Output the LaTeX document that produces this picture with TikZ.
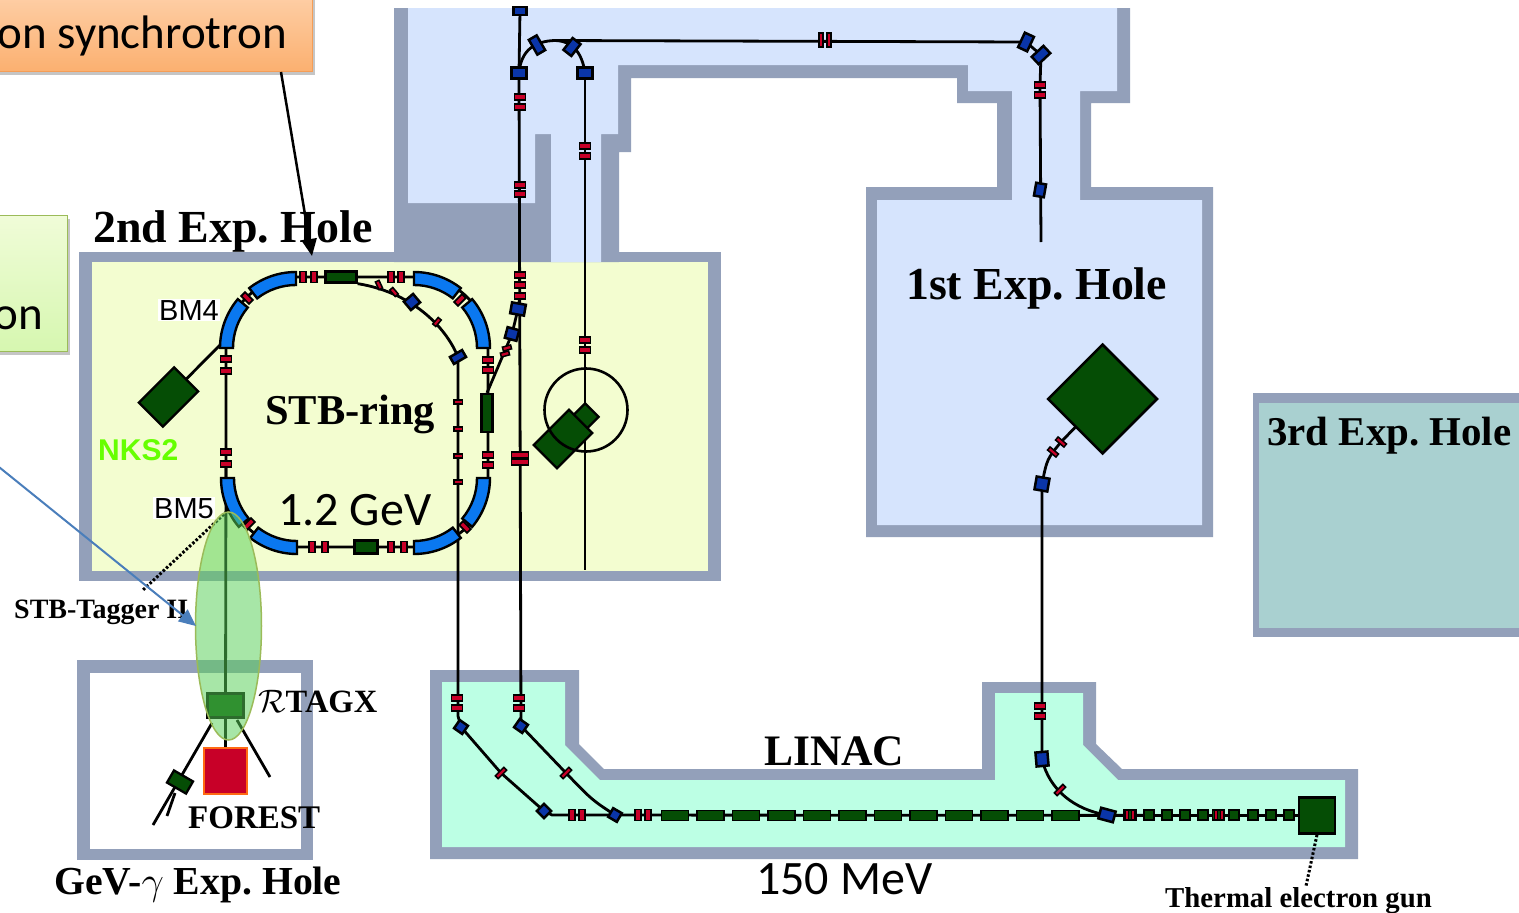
\documentclass[tikz,border=0pt]{standalone}
\usepackage{fix-cm}
\usepackage{fontspec}
\usepackage{xcolor}
\usepackage{tikz}
\usetikzlibrary{shapes.geometric, arrows.meta, backgrounds, shadows}
\setmainfont{Liberation Serif}
\newfontfamily\armfont{Liberation Sans}
\newfontfamily\calfont{Carlito}
\definecolor{wallgray}{HTML}{93A0BA}
\definecolor{halblue}{HTML}{D6E4FD}
\definecolor{holeyellow}{HTML}{F3FDD0}
\definecolor{linacmint}{HTML}{BCFFE4}
\definecolor{holeteal}{HTML}{A9D0D0}
\definecolor{magred}{HTML}{C80028}
\definecolor{cavgreen}{HTML}{054D05}
\definecolor{bendblue}{HTML}{0A35A8}
\definecolor{ringblue}{HTML}{0A78F0}
\tikzset{
    wallfill/.style={fill=wallgray},
    beam/.style={draw=black, line width=2.8pt},
    dotline/.style={draw=black, line width=3pt, dash pattern=on 2.5pt off 2pt},
    quadh/.style={rectangle, draw=black, fill=magred, line width=1.8pt, inner sep=0pt, minimum width=11pt, minimum height=5.5pt},
    quadv/.style={rectangle, draw=black, fill=magred, line width=1.8pt, inner sep=0pt, minimum width=5.5pt, minimum height=11pt},
    quadthin/.style={rectangle, draw=black, fill=magred, line width=1.5pt, inner sep=0pt, minimum width=8.5pt, minimum height=4pt},
    bendmag/.style={rectangle, draw=black, fill=bendblue, line width=2.5pt, inner sep=0pt, minimum width=#1, minimum height=11pt},
    bendmag/.default=12pt,
    ringbend/.style={draw=black, fill=ringblue, line width=2.4pt},
    cavity/.style={rectangle, draw=black, fill=cavgreen, line width=1.8pt, inner sep=0pt, minimum width=#1, minimum height=10pt},
    cavity/.default=10pt,
    blockmag/.style={rectangle, draw=black, fill=cavgreen, line width=2.3pt, inner sep=0pt},
    holelabel/.style={anchor=base west, inner sep=0pt, font=\bfseries\frenchspacing\fontsize{#1}{#1}\selectfont},
    benergy/.style={anchor=base west, inner sep=0pt, font=\calfont\fontsize{48}{48}\selectfont},
    bmlabel/.style={anchor=base west, inner sep=1pt, fill=white, font=\armfont\fontsize{29}{29}\selectfont},
    callout/.style={rectangle, line width=1.5pt, inner sep=0pt, drop shadow={shadow xshift=3pt, shadow yshift=-4pt, opacity=.45}},
    pointer/.style={line width=2.5pt, -{Triangle[length=17pt,width=15pt]}},
}

\begin{document}
\begin{tikzpicture}[x=1pt, y=-1pt]
        \useasboundingbox (0,0) rectangle (1519,913);
        \clip (0,0) rectangle (1519,913);

        \begin{scope}[on background layer]
        \fill[white] (0,0) rectangle (1519,913);

        \fill[wallfill] (79,252) rectangle (721,581);
        \fill[holeyellow] (92,262) rectangle (708,571);

        \fill[wallfill] (394,8) -- (394,262) -- (619,262) -- (619,152) -- (631,152) -- (631,78) -- (957,78) -- (957,103)
            -- (997,103) -- (997,187) -- (866,187) -- (866,537) -- (1213,537) -- (1213,187) -- (1091,187) -- (1091,103)
            -- (1130,103) -- (1130,8) -- cycle;
        \fill[halblue] (408,8) -- (408,203) -- (535,203) -- (535,134) -- (551,134) -- (551,262) -- (601,262) -- (601,134)
            -- (618,134) -- (618,65) -- (968,65) -- (968,91) -- (1012,91) -- (1012,200) -- (877,200) -- (877,525)
            -- (1202,525) -- (1202,200) -- (1080,200) -- (1080,91) -- (1117,91) -- (1117,8) -- cycle;

        \fill[wallfill] (77,660) rectangle (313,860);
        \fill[white] (90,673) rectangle (301,849);

        \fill[wallfill] (1253,393) rectangle (1530,637);
        \fill[holeteal] (1259,403) rectangle (1530,628);

        \fill[wallfill] (430,670) -- (579,670) -- (579,744) -- (604,769) -- (982,769) -- (982,682) -- (1096,682) -- (1096,744)
            -- (1122,769) -- (1358,769) -- (1358,859) -- (430,859) -- cycle;
        \fill[linacmint] (442,682) -- (565,682) -- (565,745) -- (600,780) -- (995,780) -- (995,693) -- (1083,693) -- (1083,745)
            -- (1118,780) -- (1345,780) -- (1345,847) -- (442,847) -- cycle;
        \end{scope}

        \foreach \cx/\cy/\sa/\ea in {296/348/180/140, 296/348/128/90, 414/348/90/52, 414/348/40/0, 414/478/0/-40, 414/478/-52/-90, 297/478/180/220, 297/478/232/270}
            \draw[ringbend] ({\cx+63*cos(\sa)},{\cy-63*sin(\sa)}) arc[start angle=\sa, end angle=\ea, radius=63pt]
                -- ({\cx+76*cos(\ea)},{\cy-76*sin(\ea)}) arc[start angle=\ea, end angle=\sa, radius=76pt] -- cycle;

        \node[quadh, rotate=-45] (gapnw) at (247,298) {};
        \node[quadh, rotate=45] (gapne) at (460,300) {};
        \node[quadh, rotate=45] (gapsw) at (249,524) {};
        \node[quadh, rotate=-45] (gapse) at (465,527) {};

        \node[quadh] (ringwa) at (226,359) {};
        \node[quadh] (ringwb) at (226,371) {};
        \node[quadh] (ringwc) at (226,452) {};
        \node[quadh] (ringwd) at (226,464) {};
        \node[quadh] (ringea) at (488,360) {};
        \node[quadh] (ringeb) at (488,370) {};
        \node[quadh] (ringec) at (488,455) {};
        \node[quadh] (ringed) at (488,465) {};
        \node[quadv] (ringna) at (303,277) {};
        \node[quadv] (ringnb) at (314,277) {};
        \node[quadv] (ringnc) at (391,277) {};
        \node[quadv] (ringnd) at (401,277) {};
        \node[quadv] (ringsa) at (312,547) {};
        \node[quadv] (ringsb) at (325,547) {};
        \node[quadv] (ringsc) at (391,547) {};
        \node[quadv] (ringsd) at (404,547) {};
        \node[blockmag, minimum width=31pt, minimum height=11pt] (ringcavtop) at (341,277) {};
        \node[blockmag, minimum width=23pt, minimum height=13pt] (ringcavbot) at (366,547) {};
        \node[blockmag, minimum width=11pt, minimum height=38pt] (ringcavright) at (487,413) {};

        \node[quadthin, rotate=-65] (inra) at (379,285) {};
        \node[quadthin, rotate=-50] (inrb) at (394,292) {};
        \node[bendmag=12pt, rotate=40] (inbenda) at (412,302) {};
        \node[quadthin, rotate=50] (inrc) at (437,322) {};
        \node[bendmag=14pt, minimum height=8pt, rotate=30] (inbendb) at (458,357) {};
        \node[quadthin] (inrd) at (458,402) {};
        \node[quadthin] (inre) at (458,429) {};
        \node[quadthin] (inrf) at (458,456) {};
        \node[quadthin] (inrg) at (458,482) {};

        \node[bendmag=13pt, minimum height=8pt] (ubendtop) at (520,11) {};
        \node[bendmag=15pt] (ubenda) at (519,73) {};
        \node[bendmag=9pt, minimum height=17pt, rotate=30] (ubendb) at (537,45) {};
        \node[bendmag=10pt, minimum height=15pt, rotate=-38] (ubendc) at (572,47) {};
        \node[bendmag=15pt] (ubendd) at (585,73) {};
        \node[bendmag=10pt, minimum height=16pt, rotate=-25] (ubende) at (1026,42) {};
        \node[bendmag=10pt, minimum height=16pt, rotate=-47] (ubendf) at (1041,55) {};
        \node[bendmag=10pt, minimum height=13pt, rotate=-10] (ubendg) at (1040,190) {};
        \node[quadv, minimum width=4pt, minimum height=14pt] (hora) at (821,40) {};
        \node[quadv, minimum width=4pt, minimum height=14pt] (horb) at (829,40) {};

        \node[quadh] (lina) at (520,97) {};
        \node[quadh] (linb) at (520,107) {};
        \node[quadh] (linc) at (520,185) {};
        \node[quadh] (lind) at (520,194) {};
        \node[quadh] (line) at (520,275) {};
        \node[quadh] (linf) at (520,285) {};
        \node[quadh] (ling) at (520,296) {};
        \node[quadh, minimum width=17pt] (linh) at (520,455) {};
        \node[quadh, minimum width=17pt] (lini) at (520,462) {};
        \node[quadh] (linj) at (519,698) {};
        \node[quadh] (link) at (519,708) {};
        \node[quadh] (linl) at (457,698) {};
        \node[quadh] (linm) at (457,708) {};
        \node[quadh] (midra) at (585,146) {};
        \node[quadh] (midrb) at (585,156) {};
        \node[quadh] (midrc) at (585,340) {};
        \node[quadh] (midrd) at (585,350) {};
        \node[quadh] (hola) at (1040,85) {};
        \node[quadh] (holb) at (1040,95) {};
        \node[quadh] (holc) at (1040,706) {};
        \node[quadh] (hold) at (1040,716) {};

        \node[bendmag=14pt, rotate=-10] (branchbenda) at (518,309) {};
        \node[bendmag=12pt, rotate=-15] (branchbendb) at (512,334) {};
        \node[quadthin, rotate=15] (branchra) at (507,348) {};
        \node[quadthin, rotate=15] (branchrb) at (505,354) {};

        \node[bendmag=10pt, minimum height=10pt, rotate=-35] (lbenda) at (461,727) {};
        \node[bendmag=10pt, minimum height=10pt, rotate=-35] (lbendb) at (521,726) {};
        \node[quadthin, minimum width=12pt, rotate=45] (lquada) at (501,773) {};
        \node[quadthin, minimum width=12pt, rotate=45] (lquadb) at (566,773) {};
        \node[bendmag=10pt, minimum height=10pt, rotate=45] (lbendc) at (544,811) {};
        \node[bendmag=10pt, minimum height=10pt, rotate=-30] (lbendd) at (615,815) {};
        \node[quadv] (lrowa) at (572,815) {};
        \node[quadv] (lrowb) at (582,815) {};
        \node[quadv] (lrowc) at (638,815) {};
        \node[quadv] (lrowd) at (648,815) {};
        \foreach \k in {0,...,11}
            \node[cavity=27pt] (acc\k) at ({675+35.5*\k},815.5) {};
        \node[bendmag=15pt, rotate=-15] (lbende) at (1107,815) {};
        \node[bendmag=12pt, minimum height=14pt, rotate=5] (lbendf) at (1042,759) {};
        \node[quadthin, minimum width=12pt, rotate=45] (lquadc) at (1060,790) {};

        \foreach \x/\k in {1149/a, 1167/b, 1185/c, 1203/d, 1234/e, 1253/f, 1271/g, 1289/h}
            \node[cavity] (buncher\k) at (\x,815) {};
        \node[cavity=12pt] (bunchboxa) at (1130,815) {};
        \node[quadv, minimum width=3pt, minimum height=9pt, line width=.6pt] (bunchra) at (1127,815) {};
        \node[quadv, minimum width=3pt, minimum height=9pt, line width=.6pt] (bunchrb) at (1133,815) {};
        \node[cavity=12pt] (bunchboxb) at (1218.5,815) {};
        \node[quadv, minimum width=3pt, minimum height=9pt, line width=.6pt] (bunchrc) at (1215.5,815) {};
        \node[quadv, minimum width=3pt, minimum height=9pt, line width=.6pt] (bunchrd) at (1221.5,815) {};
        \node[blockmag, line width=2.5pt, minimum width=36pt, minimum height=36pt] (gun) at (1317,815.5) {};

        \node[blockmag, minimum width=50pt, minimum height=34pt, rotate=45] (nksbox) at (168.5,397) {};
        \node[blockmag, minimum width=19pt, minimum height=28pt, rotate=-45] (targetsmall) at (582,420) {};
        \node[blockmag, minimum width=50pt, minimum height=33pt, rotate=45] (targetbig) at (563,439) {};
        \node[circle, draw=black, line width=2.6pt, inner sep=0pt, minimum size=83pt] (targetring) at (586,410) {};
        \node[diamond, draw=black, fill=cavgreen, line width=2.5pt, inner sep=0pt, minimum width=110pt, minimum height=110pt] (holemag) at (1102.5,399) {};
        \node[quadthin, minimum width=11pt, rotate=-40] (holquada) at (1061,442) {};
        \node[quadthin, minimum width=11pt, rotate=-40] (holquadb) at (1053,452) {};
        \node[bendmag=13pt, minimum height=13pt, rotate=-10] (holbend) at (1042,484) {};

        \node[blockmag, minimum width=36pt, minimum height=24pt] (tagbox) at (225.5,705.5) {};
        \node[rectangle, draw={rgb,255:red,255;green,106;blue,19}, fill=magred, line width=2.5pt, inner sep=0pt, minimum width=43pt, minimum height=46pt] (forest) at (225.5,771) {};
        \node[blockmag, minimum width=22pt, minimum height=14pt, rotate=-30] (sidebox) at (180,782) {};

        \coordinate (halturn) at (555,40.5);
        \coordinate (halend) at (1041,242);
        \coordinate (midend) at (585,570);
        \coordinate (nksjoin) at (221,344);
        \coordinate (lturna) at (458,716);
        \coordinate (lturnb) at (552,815);
        \coordinate (tagleft) at (212,723);
        \coordinate (tagfar) at (153,825);
        \coordinate (sidestub) at (175,793);
        \coordinate (sidefar) at (167,816);
        \coordinate (tagright) at (237,720);
        \coordinate (tagrightend) at (270,777);
        \coordinate (taggerdota) at (237,502);
        \coordinate (taggerdotb) at (143,590);
        \coordinate (gundot) at (1306,886);

        \begin{scope}[on background layer]
        \draw[beam, rounded corners=70pt] (226,277) rectangle (488,547);
        \draw[beam] (ringcavtop.south east) .. controls (410,292) and (445,325) .. (inbendb.center);
        \draw[beam] (inbendb.center) -- (lturna) -- (lbenda.center) -- (lquada.center) -- (lbendc.center) -- (lturnb) -- (gun.center);
        \draw[beam] (ubendtop.center) -- (ubenda.center) -- (lbendb.center) -- (lquadb.center) .. controls (592,800) .. (lbendd.center);
        \draw[beam] (ubenda.center) .. controls (521,50) and (535,41) .. (halturn) .. controls (572,41) and (582,52) .. (ubendd.center);
        \draw[beam] (halturn) -- (ubende.center) -- (ubendf.center) -- (hola.center) -- (halend);
        \draw[beam] (ubendd.center) -- (midend);
        \draw[beam] (ringcavright.north) -- (branchbendb.center) -- (branchbenda.center) -- (ling.center);
        \draw[beam] (nksbox.center) -- (nksjoin);
        \draw[beam] (holemag.center) -- (holquada.center) .. controls (1047,459) .. (holbend.center) -- (lbendf.center) .. controls (1049,790) and (1075,810) .. (lbende.center);
        \draw[beam] (ringwd.center) -- (tagbox.center) -- (forest.north);
        \draw[beam] (tagleft) -- (tagfar);
        \draw[beam] (sidestub) -- (sidefar);
        \draw[beam] (tagright) -- (tagrightend);
        \draw[dotline] (taggerdota) -- (taggerdotb);
        \draw[dotline] (gun.south) -- (gundot);
        \end{scope}

        \node[holelabel=45.9] (secondlabel) at (93,242) {2nd Exp. Hole};
        \node[holelabel=45.8] (firstlabel) at (906,299) {1st Exp. Hole};
        \node[holelabel=40.9] (thirdlabel) at (1267,445) {3rd Exp. Hole};
        \node[holelabel=42.5] (ringlabel) at (265,424) {STB-ring};
        \node[holelabel=43.5] (linaclabel) at (764,765) {LINAC};
        \node[holelabel=33] (forestlabel) at (188,828) {FOREST};
        \node[holelabel=32.5] (rtagxlabel) at (258,712) {$\mathcal{R}$TAGX};
        \node[holelabel=39.7] (gevlabel) at (54,894) {GeV-$\gamma$ Exp. Hole};
        \node[holelabel=28] (tagglabel) at (14,618) {STB-Tagger II};
        \node[holelabel=28.8] (gunlabel) at (1165,907) {Thermal electron gun};
        \node[bmlabel] (bmfour) at (158,320) {BM4};
        \node[bmlabel] (bmfive) at (153,518) {BM5};
        \node[anchor=base west, inner sep=0pt, text={rgb,255:red,102;green,255;blue,0}, font=\armfont\bfseries\fontsize{30}{30}\selectfont] (nkslabel) at (98,460) {NKS2};
        \node[benergy] (ringenergy) at (278,525) {1.2 GeV};
        \node[benergy] (linacenergy) at (756,894) {150 MeV};

        \node[ellipse, draw={rgb,255:red,155;green,187;blue,89}, line width=1.5pt, fill={rgb,255:red,88;green,208;blue,88}, fill opacity=.52, inner sep=0pt, minimum width=66pt, minimum height=228pt] (taggerzone) at (228.5,626) {};

        \node[callout, anchor=south east, draw={rgb,255:red,245;green,157;blue,86}, top color={rgb,255:red,255;green,220;blue,190}, bottom color={rgb,255:red,251;green,176;blue,112}, minimum width=400pt, minimum height=110pt] (synbox) at (313,72) {};
        \node[anchor=base east, inner sep=0pt, font=\calfont\fontsize{47}{47}\selectfont] (synlabel) at (287,48) {on synchrotron};
        \node[callout, anchor=south east, draw={rgb,255:red,155;green,187;blue,89}, top color={rgb,255:red,240;green,252;blue,216}, bottom color={rgb,255:red,214;green,247;blue,176}, minimum width=100pt, minimum height=136pt] (taggerbox) at (68,352) {};
        \node[anchor=base east, inner sep=0pt, font=\calfont\fontsize{47}{47}\selectfont] (taggertext) at (43,329) {on};

        \coordinate (synstart) at (281,72);
        \coordinate (synend) at (312,256);
        \coordinate (bluestart) at (-6,463);
        \coordinate (blueend) at (196,626);
        \draw[pointer] (synstart) -- (synend);
        \draw[pointer, draw={rgb,255:red,74;green,126;blue,187}, fill={rgb,255:red,74;green,126;blue,187}, line width=2pt] (bluestart) -- (blueend);
    \end{tikzpicture}
\end{document}
